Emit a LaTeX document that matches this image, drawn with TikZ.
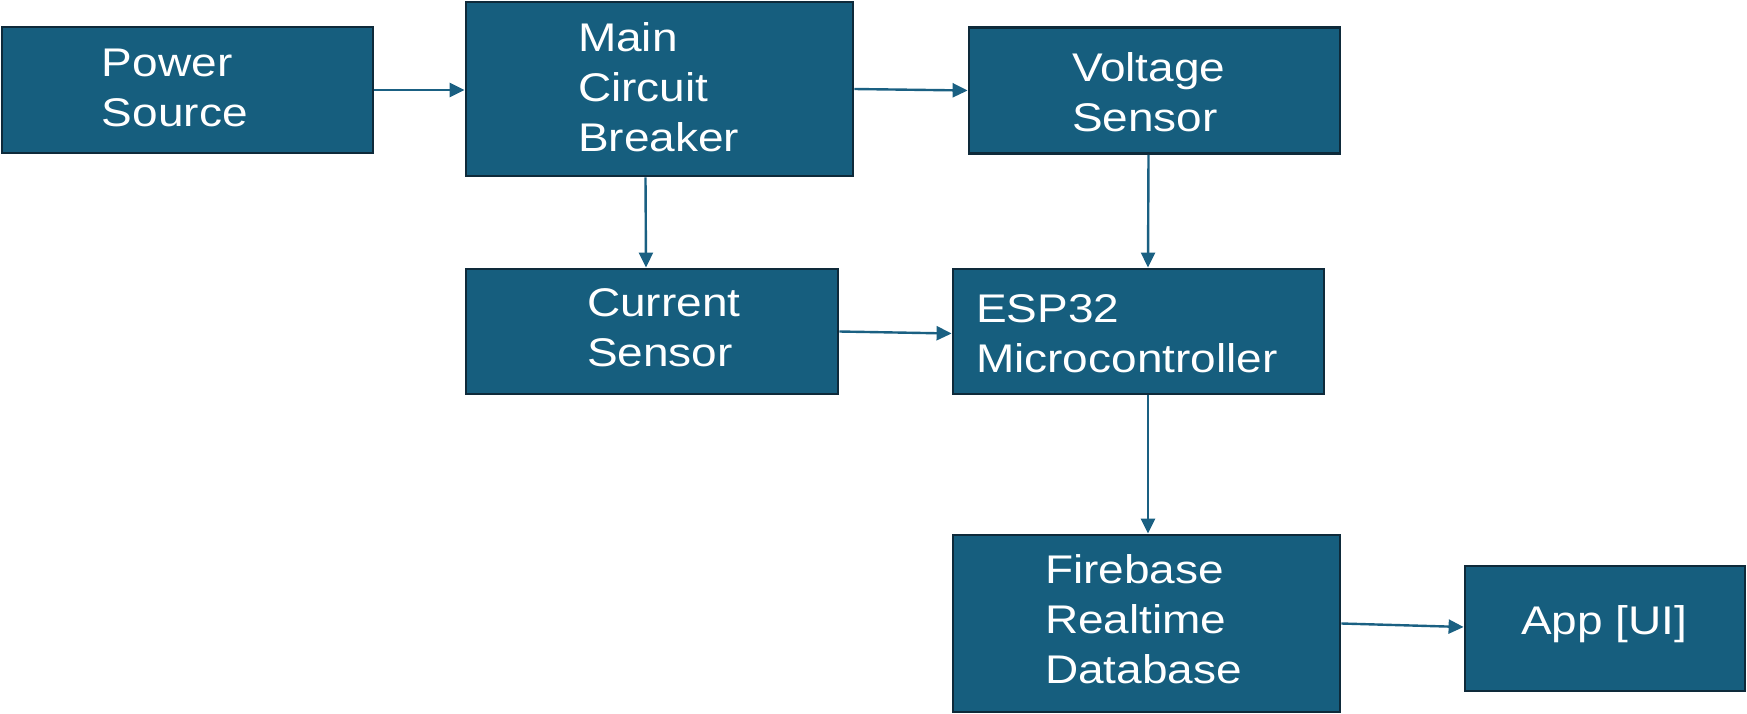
\documentclass[tikz,border=0pt]{standalone}
\usepackage{fontspec}
\setmainfont[FakeStretch=1.15]{Liberation Sans}
\usetikzlibrary{arrows.meta}
\definecolor{boxfill}{HTML}{165E7E}
\definecolor{boxline}{HTML}{0E2A3A}
\definecolor{arrowcol}{HTML}{1A6082}
% #1 vertical shift, #2 left padding, #3 box width, #4 lines
\newcommand{\bxtext}[4]{\raisebox{#1}[\height][\depth]{\makebox[#3][l]{\hspace*{#2}\begin{tabular}{@{}l@{}}#4\end{tabular}}}}
\tikzset{
  blk/.style={draw=boxline, line width=1.4pt, fill=boxfill, text=white,
    inner sep=0pt, font=\fontsize{20}{25}\selectfont},
  conn/.style={draw=arrowcol, line width=1.2pt, -{Triangle[length=7.5pt,width=7pt]}}
}
\begin{document}
\begin{tikzpicture}[x=0.5pt,y=-0.5pt]
\useasboundingbox (0,0) rectangle (1747,713);
\node[blk, minimum width=185.5pt, minimum height=63pt] (pw) at (187.5,90) {\bxtext{-0.8pt}{50pt}{185.5pt}{Power\\Source}};
\node[blk, minimum width=193.5pt, minimum height=87pt] (mcb) at (659.5,89) {\bxtext{-1.1pt}{56pt}{193.5pt}{Main\\Circuit\\Breaker}};
\node[blk, minimum width=185.5pt, minimum height=63pt] (vs) at (1154.5,90.5) {\bxtext{-2.8pt}{51.5pt}{185.5pt}{Voltage\\Sensor}};
\node[blk, minimum width=186pt, minimum height=62.5pt] (cs) at (652,331.5) {\bxtext{0pt}{60.5pt}{186pt}{Current\\Sensor}};
\node[blk, minimum width=185.5pt, minimum height=62.5pt] (esp) at (1138.5,331.5) {\bxtext{-2.8pt}{11.5pt}{185.5pt}{ESP32\\Microcontroller}};
\node[blk, minimum width=193.5pt, minimum height=88.5pt] (fb) at (1146.5,623.5) {\bxtext{0pt}{46pt}{193.5pt}{Firebase\\Realtime\\Database}};
\node[blk, minimum width=140pt, minimum height=62.5pt] (app) at (1605,628.5) {\bxtext{-2.8pt}{28pt}{140pt}{\raisebox{7pt}{App [UI]}}};
\draw[conn] (pw.east) -- (pw.east -| mcb.west);
\draw[conn] (mcb.east) -- (vs.west);
\draw[conn] ([xshift=-7pt]mcb.south) -- ([xshift=-3pt]cs.north);
\draw[conn] ([xshift=-3pt]vs.south) -- ([xshift=4.75pt]esp.north);
\draw[conn] (cs.east) -- ([yshift=-1pt]esp.west);
\draw[conn] ([xshift=4.75pt]esp.south) -- ([xshift=0.75pt]fb.north);
\draw[conn] (fb.east) -- ([yshift=0.75pt]app.west);
\end{tikzpicture}
\end{document}
